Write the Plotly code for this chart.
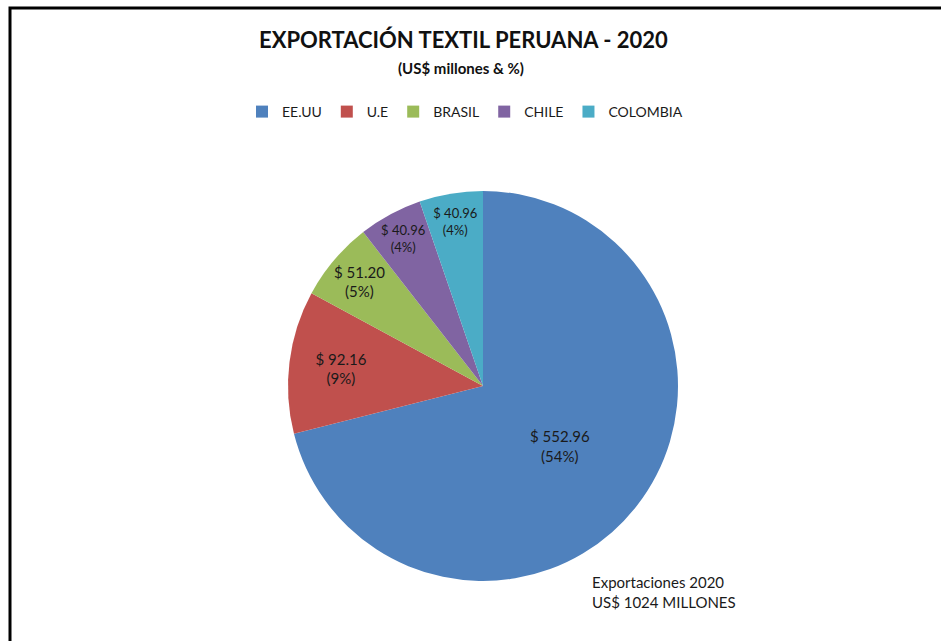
import plotly.graph_objects as go

# Data
paises = ["EE.UU", "U.E", "BRASIL", "CHILE", "COLOMBIA"]
valores = [552.96, 92.16, 51.20, 40.96, 40.96]
total_exportaciones = 1024
colores = ["#4F81BD", "#C0504D", "#9BBB59", "#8064A2", "#4BACC6"]

porcentajes = [round(v / total_exportaciones * 100) for v in valores]

W, H = 941, 641
FONT = "Lato, 'Open Sans', sans-serif"

fig = go.Figure()
fig.add_trace(go.Pie(
    labels=paises,
    values=valores,
    customdata=porcentajes,
    marker=dict(colors=colores, line=dict(width=0)),
    sort=False,
    direction="clockwise",
    rotation=0,
    texttemplate="$ %{value:.2f}<br>(%{customdata}%)",
    textposition="inside",
    insidetextorientation="horizontal",
    textfont=dict(family=FONT, size=15, color="#1a1a1a"),
    hoverinfo="label+value",
    domain=dict(x=[288 / W, 678 / W], y=[57 / H, 453 / H]),
))

fig.update_layout(
    width=W, height=H,
    margin=dict(l=0, r=0, t=0, b=0),
    paper_bgcolor="white",
    plot_bgcolor="white",
    font=dict(family=FONT, color="#1a1a1a"),
    showlegend=True,
    legend=dict(
        orientation="h",
        x=242 / W, xanchor="left",
        y=1 - 96 / H, yanchor="top",
        font=dict(family=FONT, size=14, color="#1a1a1a"),
        traceorder="normal",
    ),
    annotations=[
        dict(text="<b>EXPORTACIÓN TEXTIL PERUANA - 2020</b>",
             x=463 / W, y=1 - 40 / H, xref="paper", yref="paper",
             xanchor="center", yanchor="middle", showarrow=False,
             font=dict(family=FONT, size=22, color="#111111")),
        dict(text="<b>(US$ millones & %)</b>",
             x=461 / W, y=1 - 68 / H, xref="paper", yref="paper",
             xanchor="center", yanchor="middle", showarrow=False,
             font=dict(family=FONT, size=15, color="#111111")),
        dict(text="Exportaciones 2020<br>US$ 1024 MILLONES",
             x=590 / W, y=1 - 592 / H, xref="paper", yref="paper",
             xanchor="left", yanchor="middle", align="left", showarrow=False,
             font=dict(family=FONT, size=15, color="#1a1a1a")),
    ],
    shapes=[
        dict(type="rect", xref="paper", yref="paper",
             x0=10 / W, y0=-0.1, x1=1.1, y1=1 - 8 / H,
             line=dict(color="black", width=3), fillcolor="rgba(0,0,0,0)"),
    ],
)

fig.write_html("out.html")
